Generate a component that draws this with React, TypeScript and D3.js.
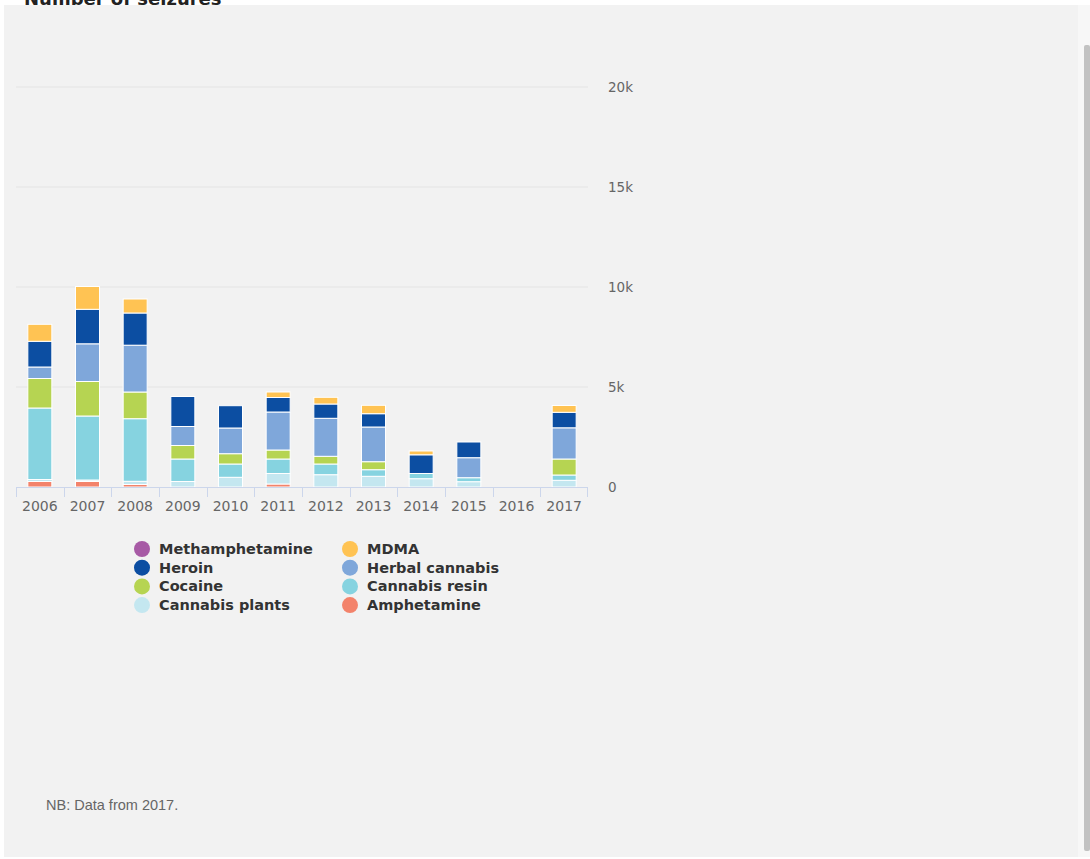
import React from "react";
import * as d3 from "d3";

const years = ["2006","2007","2008","2009","2010","2011","2012","2013","2014","2015","2016","2017"];
// stacking order bottom -> top
const seriesNames = ["Amphetamine","Cannabis plants","Cannabis resin","Cocaine","Herbal cannabis","Heroin","MDMA","Methamphetamine"];
const seriesColors = ["#f3836b","#c4e7f0","#86d3e0","#b6d452","#7fa7da","#0c4ea2","#ffc353","#a75aa5"];

const amphetamine    = [275, 275, 125, 0, 0, 150, 0, 0, 0, 0, 0, 0];
const cannabisPlants = [100, 75, 160, 275, 485, 525, 615, 535, 415, 265, 0, 335];
const cannabisResin  = [3575, 3200, 3130, 1125, 665, 725, 535, 330, 260, 200, 0, 265];
const cocaine        = [1475, 1725, 1335, 675, 515, 450, 385, 400, 0, 0, 0, 800];
const herbalCannabis = [575, 1885, 2340, 950, 1285, 1900, 1900, 1735, 0, 1000, 0, 1560];
const heroin         = [1285, 1725, 1610, 1500, 1115, 725, 715, 665, 935, 785, 0, 775];
const mdma           = [850, 1140, 700, 0, 0, 275, 335, 420, 190, 0, 0, 340];
const methamphetamine= [0, 0, 0, 0, 0, 0, 0, 0, 0, 0, 0, 0];

const seriesValues = [amphetamine, cannabisPlants, cannabisResin, cocaine, herbalCannabis, heroin, mdma, methamphetamine];
const yTicks = [0, 5000, 10000, 15000, 20000];
const yTickLabels = ["0", "5k", "10k", "15k", "20k"];
// legend order (row-major, two columns)
const legendOrder = ["Methamphetamine","MDMA","Heroin","Herbal cannabis","Cocaine","Cannabis resin","Cannabis plants","Amphetamine"];

export default function App() {
  const W = 1090, H = 859;
  const x = d3.scaleBand<string>().domain(years).range([16, 588]).paddingInner(0).paddingOuter(0);
  const y = d3.scaleLinear().domain([0, 20000]).range([487, 87]);
  const rows = years.map((yr, i) => {
    const r: any = { year: yr };
    seriesNames.forEach((s, k) => (r[s] = seriesValues[k][i]));
    return r;
  });
  const stacked = d3.stack<any>().keys(seriesNames)(rows);
  const bw = 24;
  const font = "'DejaVu Sans', Verdana, sans-serif";

  return (
    <>
      <style>{`body{margin:0}`}</style>
      <svg width={W} height={H} style={{ display: "block", background: "#ffffff" }}>
        <rect x={4} y={5} width={1074} height={852} fill="#f2f2f2" />
        <rect x={1078} y={5} width={12} height={852} fill="#f7f7f7" />
        <rect x={1084} y={45} width={6} height={806} rx={2} fill="#c2c2c2" />
        <text x={24} y={5} fontFamily={font} fontWeight="bold" fontSize={18} fill="#222">Number of seizures</text>

        {yTicks.slice(1).map((t) => (
          <line key={t} x1={16} x2={588} y1={y(t)} y2={y(t)} stroke="#e4e4e4" strokeWidth={1} />
        ))}
        {yTicks.map((t, i) => (
          <text key={t} x={608} y={y(t) + 5} fontFamily={font} fontSize={13.5} fill="#666">{yTickLabels[i]}</text>
        ))}

        {stacked.map((layer, k) => (
          <g key={seriesNames[k]} fill={seriesColors[k]}>
            {layer.map((d, i) => {
              const h = y(d[0]) - y(d[1]);
              if (h <= 0) return null;
              return (
                <rect key={i} x={(x(years[i]) as number) + x.bandwidth() / 2 - bw / 2} y={y(d[1])} width={bw} height={h}
                  stroke="#ffffff" strokeWidth={1} />
              );
            })}
          </g>
        ))}

        <line x1={16} x2={588} y1={487.5} y2={487.5} stroke="#ccd6eb" strokeWidth={1} />
        {years.map((yr) => (
          <line key={yr} x1={Math.round(x(yr) as number) + 0.5} x2={Math.round(x(yr) as number) + 0.5} y1={487} y2={497} stroke="#ccd6eb" />
        ))}
        <line x1={587.5} x2={587.5} y1={487} y2={497} stroke="#ccd6eb" />
        {years.map((yr) => (
          <text key={yr} x={(x(yr) as number) + x.bandwidth() / 2} y={511} textAnchor="middle" fontFamily={font} fontSize={14} fill="#666">{yr}</text>
        ))}

        {legendOrder.map((name, i) => {
          const col = i % 2, row = Math.floor(i / 2);
          const cx = col === 0 ? 142 : 350;
          const cy = 549 + row * 18.7;
          const color = seriesColors[seriesNames.indexOf(name)];
          return (
            <g key={name}>
              <circle cx={cx} cy={cy} r={8} fill={color} />
              <text x={cx + 17} y={cy + 5} fontFamily={font} fontWeight="bold" fontSize={14.5} fill="#333">{name}</text>
            </g>
          );
        })}

        <text x={46} y={810} fontFamily="'Liberation Sans', Arial, sans-serif" fontSize={14.5} fill="#666">NB: Data from 2017.</text>
      </svg>
    </>
  );
}
